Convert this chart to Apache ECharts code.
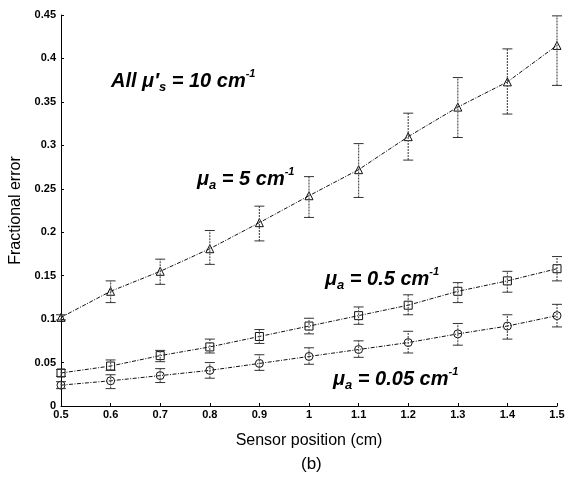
<!DOCTYPE html>
<html>
<head>
<meta charset="utf-8">
<script src="https://cdn.jsdelivr.net/npm/echarts@6/dist/echarts.min.js"></script>
<style>
  html, body { margin: 0; padding: 0; background: #fff; }
  #chart { width: 569px; height: 479px; }
</style>
</head>
<body>
<div id="chart"></div>
<script>
const positions = [0.5, 0.6, 0.7, 0.8, 0.9, 1.0, 1.1, 1.2, 1.3, 1.4, 1.5];

// mu_a = 5 cm^-1 (triangles)
const err5 = [0.102, 0.132, 0.155, 0.181, 0.211, 0.242, 0.272, 0.310, 0.344, 0.373, 0.415];
const err5Low = [0.099, 0.119, 0.140, 0.163, 0.190, 0.217, 0.240, 0.283, 0.309, 0.336, 0.369];
const err5High = [0.105, 0.144, 0.169, 0.202, 0.230, 0.264, 0.302, 0.337, 0.378, 0.411, 0.449];

// mu_a = 0.5 cm^-1 (squares)
const err05 = [0.038, 0.046, 0.058, 0.068, 0.080, 0.092, 0.104, 0.116, 0.132, 0.144, 0.158];
const err05Low = [0.034, 0.041, 0.051, 0.061, 0.072, 0.083, 0.094, 0.105, 0.119, 0.131, 0.144];
const err05High = [0.042, 0.053, 0.064, 0.077, 0.088, 0.101, 0.114, 0.128, 0.142, 0.155, 0.172];

// mu_a = 0.05 cm^-1 (circles)
const err005 = [0.024, 0.029, 0.035, 0.041, 0.049, 0.057, 0.065, 0.073, 0.083, 0.092, 0.104];
const err005Low = [0.020, 0.020, 0.027, 0.032, 0.041, 0.048, 0.056, 0.061, 0.070, 0.077, 0.091];
const err005High = [0.028, 0.036, 0.043, 0.050, 0.059, 0.067, 0.075, 0.086, 0.095, 0.105, 0.117];

const xTicks = [0.5, 1.5, 0.1];
const yTicks = [0, 0.45, 0.05];

const FONT = 'Liberation Sans, Arial, Helvetica, sans-serif';

function pairs(ys) {
  return positions.map((x, i) => [x, ys[i]]);
}
function bars(lo, hi) {
  return positions.map((x, i) => [x, lo[i], hi[i]]);
}

function renderErrorBar(params, api) {
  const x = api.value(0);
  const lo = api.coord([x, api.value(1)]);
  const hi = api.coord([x, api.value(2)]);
  const cap = 5;
  return {
    type: 'group',
    children: [
      {
        type: 'line',
        shape: { x1: lo[0], y1: lo[1], x2: hi[0], y2: hi[1] },
        style: { stroke: '#555', lineWidth: 1.2, lineDash: [2, 1] },
      },
      {
        type: 'line',
        shape: { x1: lo[0] - cap, y1: lo[1], x2: lo[0] + cap, y2: lo[1] },
        style: { stroke: '#333', lineWidth: 1 },
      },
      {
        type: 'line',
        shape: { x1: hi[0] - cap, y1: hi[1], x2: hi[0] + cap, y2: hi[1] },
        style: { stroke: '#333', lineWidth: 1 },
      },
    ],
  };
}

function lineSeries(name, ys, symbol) {
  return {
    name: name,
    type: 'line',
    data: pairs(ys),
    symbol: symbol,
    symbolSize: 8,
    showAllSymbol: true,
    lineStyle: { color: '#111', width: 1, type: [4, 1.5, 1, 1.5] },
    itemStyle: { color: 'rgba(0,0,0,0)', borderColor: '#111', borderWidth: 1 },
    emphasis: { disabled: true },
    z: 3,
  };
}

function errorSeries(lo, hi) {
  return {
    type: 'custom',
    renderItem: renderErrorBar,
    data: bars(lo, hi),
    encode: { x: 0, y: [1, 2] },
    silent: true,
    z: 4,
  };
}

const rich = {
  t: { fontFamily: FONT, fontSize: 20, fontWeight: 'bold', fontStyle: 'italic', fill: '#000', color: '#000', lineHeight: 26, verticalAlign: 'middle' },
  sub: { fontFamily: FONT, fontSize: 13, fontWeight: 'bold', fontStyle: 'italic', fill: '#000', color: '#000', padding: [11, 0, 0, 0], verticalAlign: 'bottom' },
  sup: { fontFamily: FONT, fontSize: 11, fontWeight: 'bold', fontStyle: 'italic', fill: '#000', color: '#000', padding: [0, 0, 11, 0], verticalAlign: 'top' },
};

function note(text, left, top) {
  return {
    type: 'text',
    left: left,
    top: top,
    style: { text: text, rich: rich, fill: '#000' },
    z: 10,
  };
}

const chart = echarts.init(document.getElementById('chart'), null, { renderer: 'canvas' });

const option = {
  animation: false,
  backgroundColor: '#fff',
  grid: { left: 61, right: 12, top: 15, bottom: 73, outerBoundsMode: 'none' },
  xAxis: {
    type: 'value',
    min: xTicks[0],
    max: xTicks[1],
    interval: xTicks[2],
    name: 'Sensor position (cm)',
    nameLocation: 'middle',
    nameGap: 27,
    nameTextStyle: { fontFamily: FONT, fontSize: 16, color: '#000' },
    axisLine: { lineStyle: { color: '#000', width: 1 } },
    axisTick: { inside: true, length: 3, lineStyle: { color: '#000' } },
    axisLabel: { fontFamily: FONT, fontSize: 11, fontWeight: 'bold', color: '#000', margin: 3 },
    splitLine: { show: false },
  },
  yAxis: {
    type: 'value',
    min: yTicks[0],
    max: yTicks[1],
    interval: yTicks[2],
    name: 'Fractional error',
    nameLocation: 'middle',
    nameGap: 36,
    nameTextStyle: { fontFamily: FONT, fontSize: 16, color: '#000' },
    axisLine: { show: true, lineStyle: { color: '#000', width: 1 } },
    axisTick: { show: true, inside: true, length: 3, lineStyle: { color: '#000' } },
    axisLabel: { fontFamily: FONT, fontSize: 11, fontWeight: 'bold', color: '#000', margin: 5 },
    splitLine: { show: false },
  },
  title: {
    text: '(b)',
    left: 296,
    top: 451,
    textStyle: { fontFamily: FONT, fontSize: 17, fontWeight: 'normal', color: '#000' },
  },
  graphic: [
    note('{t|All μ′}{sub|s}{t| = 10 cm}{sup|-1}', 111, 68),
    note('{t|μ}{sub|a}{t| = 5 cm}{sup|-1}', 197, 166),
    note('{t|μ}{sub|a}{t| = 0.5 cm}{sup|-1}', 325, 266),
    note('{t|μ}{sub|a}{t| = 0.05 cm}{sup|-1}', 333, 366),
  ],
  series: [
    lineSeries('mu_a = 5', err5, 'triangle'),
    lineSeries('mu_a = 0.5', err05, 'rect'),
    lineSeries('mu_a = 0.05', err005, 'circle'),
    errorSeries(err5Low, err5High),
    errorSeries(err05Low, err05High),
    errorSeries(err005Low, err005High),
  ],
};

chart.setOption(option);
</script>
</body>
</html>
